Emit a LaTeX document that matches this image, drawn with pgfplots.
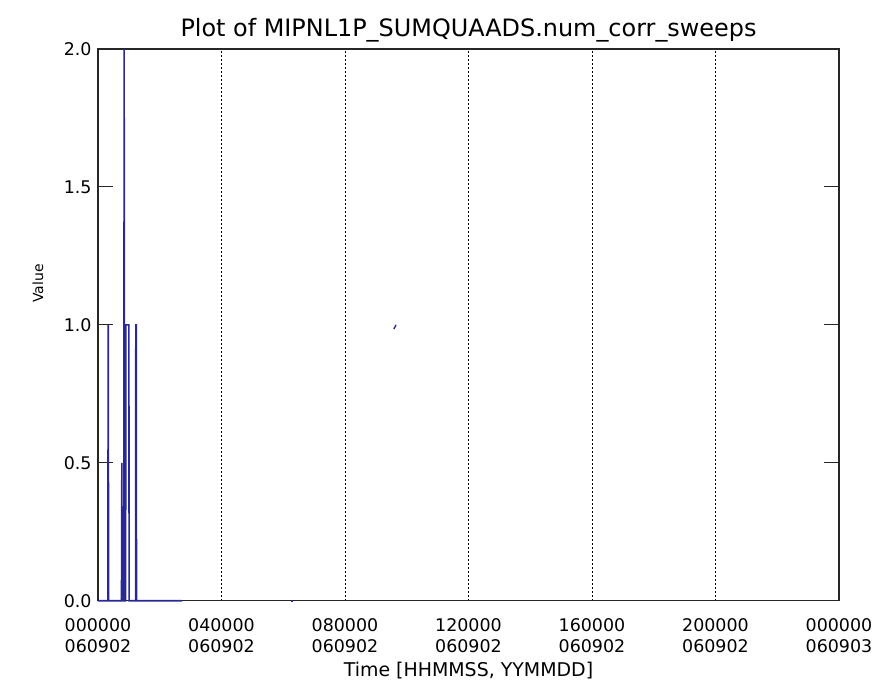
\documentclass[border=0pt]{standalone}
\usepackage{fontspec}
\setmainfont{DejaVu Sans}
\usepackage{pgfplots}
\pgfplotsset{compat=1.18}
\definecolor{idlblue}{RGB}{40,40,150}
\begin{document}
\begin{tikzpicture}
\begin{axis}[
  scale only axis,
  width=741bp, height=551.7bp,
  xmin=0, xmax=86400, ymin=0, ymax=2,
  scaled x ticks=false,
  axis line style={line width=1.2bp, black!85},
  xtick={0,14400,28800,43200,57600,72000,86400},
  xticklabels={000000\\060902,040000\\060902,080000\\060902,120000\\060902,160000\\060902,200000\\060902,000000\\060903},
  xticklabel style={align=center, font=\fontsize{17.5}{21}\selectfont, yshift=-14bp},
  x tick style={draw=none},
  xmajorgrids,
  major grid style={black, line width=0.9bp, dash pattern=on 1.6bp off 2.4bp},
  ytick={0,0.5,1,1.5,2},
  ytick pos=both,
  tick align=inside,
  major tick length=15bp,
  y tick style={black!85, line width=1bp},
  yticklabel style={font=\fontsize{17.5}{21}\selectfont, xshift=-3bp, /pgf/number format/.cd, fixed, fixed zerofill, precision=1, assume math mode=true},
  title={Plot of MIPNL1P\_SUMQUAADS.num\_corr\_sweeps},
  title style={font=\fontsize{24}{28}\selectfont, at={(axis description cs:0.5,1)}, anchor=base, yshift=7bp},
  xlabel={Time [HHMMSS, YYMMDD]},
  xlabel style={font=\fontsize{19}{22}\selectfont, at={(axis description cs:0.5,0)}, anchor=base, yshift=-76bp},
  ylabel={Value},
  ylabel style={font=\fontsize{14}{16}\selectfont, at={(axis description cs:-0.074,0.575)}, anchor=base},
  clip=false,
]
\addplot[idlblue, line width=1.6bp] coordinates {
  (0,0) (1150,0) (1190,1) (1240,0) (2740,0) (2780,0.5) (2820,0)
  (3010,0) (3050,2) (3090,0) (3220,0) (3250,1) (3600,1) (3630,0)
  (4380,0) (4410,1) (4460,1) (4490,0) (9800,0)
};
\addplot[idlblue, line width=1.6bp] coordinates {(22450,0) (22750,0)};
\addplot[idlblue, line width=1.4bp] coordinates {(34500,0.985) (34750,1.0)};
\end{axis}
\pgfresetboundingbox
\path[use as bounding box] (-98bp,-97.3bp) rectangle (791bp,600.7bp);
\end{tikzpicture}
\end{document}
